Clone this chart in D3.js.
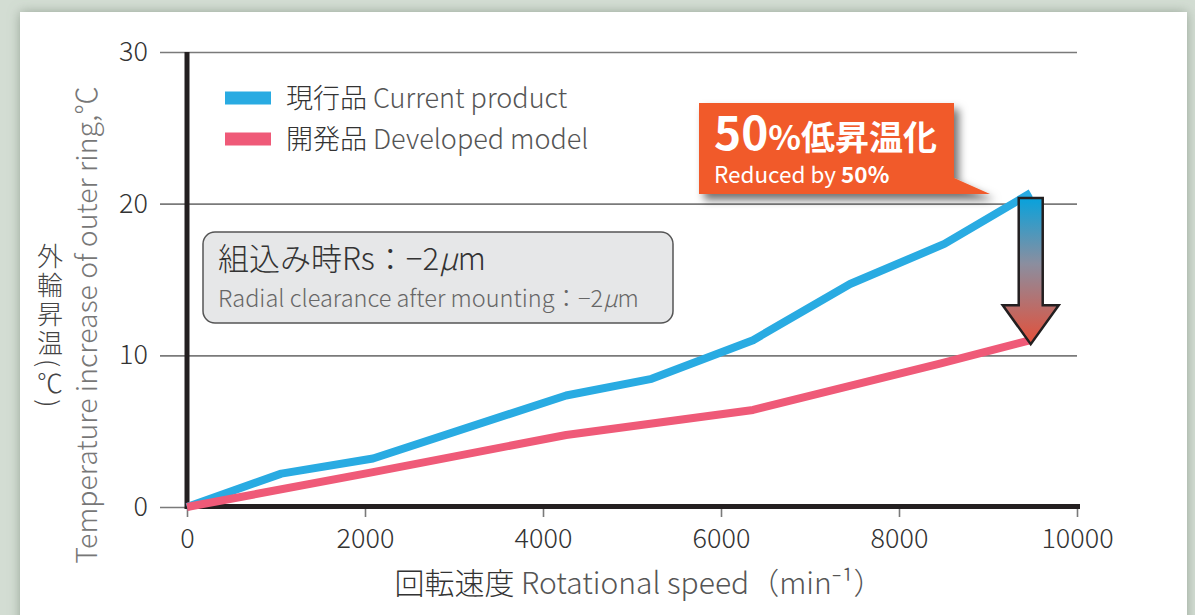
<!DOCTYPE html>
<html>
<head>
<meta charset="utf-8">
<script src="https://cdn.jsdelivr.net/npm/d3@7"></script>
<style>
  body { margin: 0; background: #d3ddd3; }
  svg { display: block; font-family: "Noto Sans CJK JP", "Noto Sans", sans-serif; font-weight: 300; }
</style>
</head>
<body>
<svg id="chart" width="1195" height="615"></svg>
<script>
// data
let speedCurrent = [0, 1060, 2090, 4260, 5220, 6360, 7450, 8510, 9480];
let tempCurrent = [0, 2.2, 3.2, 7.35, 8.45, 11.0, 14.7, 17.35, 20.7];
let speedDeveloped = [0, 2090, 4260, 6360, 8460, 9480];
let tempDeveloped = [0, 2.3, 4.75, 6.4, 9.45, 11.0];
let xTicks = [0, 2000, 4000, 6000, 8000, 10000];
let yTicks = [0, 10, 20, 30];
let legendLabels = [["現行品", " Current product"], ["開発品", " Developed model"]];
let colors = ["#29abe2", "#ef5a78"];

let svg = d3.select("#chart");
let defs = svg.append("defs");

let panelShadow = defs.append("filter").attr("id", "panelShadow")
  .attr("x", "-5%").attr("y", "-5%").attr("width", "110%").attr("height", "110%");
panelShadow.append("feDropShadow").attr("dx", 0).attr("dy", 0)
  .attr("stdDeviation", 6).attr("flood-color", "#7d8c7d").attr("flood-opacity", 0.7);

let boxShadow = defs.append("filter").attr("id", "boxShadow")
  .attr("x", "-20%").attr("y", "-30%").attr("width", "140%").attr("height", "170%");
boxShadow.append("feDropShadow").attr("dx", 5).attr("dy", 6)
  .attr("stdDeviation", 4).attr("flood-color", "#000").attr("flood-opacity", 0.55);

let grad = defs.append("linearGradient").attr("id", "arrowGrad")
  .attr("x1", 0).attr("y1", 0).attr("x2", 0).attr("y2", 1);
grad.append("stop").attr("offset", "0%").attr("stop-color", "#08a2dc");
grad.append("stop").attr("offset", "45%").attr("stop-color", "#8b8e9f");
grad.append("stop").attr("offset", "100%").attr("stop-color", "#e4503a");

// white panel
svg.append("rect")
  .attr("x", 20).attr("y", 12).attr("width", 1167).attr("height", 640)
  .attr("fill", "#fff").attr("filter", "url(#panelShadow)");

let x = d3.scaleLinear().domain([0, 10000]).range([187, 1077]);
let y = d3.scaleLinear().domain([0, 30]).range([507, 52]);

// y grid + labels
let yAxis = svg.append("g")
  .attr("transform", "translate(160,0)")
  .call(d3.axisLeft(y).tickValues(yTicks).tickSize(-(1077 - 160)).tickPadding(12));
yAxis.select(".domain").remove();
yAxis.selectAll("line").attr("stroke", "#7a7a7a").attr("stroke-width", 1.6);
yAxis.selectAll("text").attr("font-size", 27).attr("fill", "#333")
  .attr("font-family", "'Noto Sans CJK JP', sans-serif");

// x ticks + labels
let xAxis = svg.append("g")
  .attr("transform", "translate(0,507)")
  .call(d3.axisBottom(x).tickValues(xTicks).tickFormat(d3.format("d")).tickSize(10).tickPadding(12));
xAxis.select(".domain").remove();
xAxis.selectAll("line").attr("stroke", "#7a7a7a").attr("stroke-width", 1.6);
xAxis.selectAll("text").attr("font-size", 27).attr("fill", "#333")
  .attr("font-family", "'Noto Sans CJK JP', sans-serif");

// black axis lines
svg.append("line").attr("x1", 187).attr("x2", 187).attr("y1", y(30)).attr("y2", 509)
  .attr("stroke", "#231f20").attr("stroke-width", 5);
svg.append("line").attr("x1", 185).attr("x2", 1080).attr("y1", 506.5).attr("y2", 506.5)
  .attr("stroke", "#231f20").attr("stroke-width", 5);

// series
let line = d3.line().x(d => x(d[0])).y(d => y(d[1]));
let series = [
  d3.zip(speedCurrent, tempCurrent),
  d3.zip(speedDeveloped, tempDeveloped)
];
series.forEach((s, i) => {
  svg.append("path")
    .datum(s)
    .attr("d", line)
    .attr("fill", "none")
    .attr("stroke", colors[i])
    .attr("stroke-width", 8)
    .attr("stroke-linejoin", "round");
});

// legend
let legend = svg.append("g").attr("transform", "translate(225,98)");
legendLabels.forEach((lab, i) => {
  let g = legend.append("g").attr("transform", "translate(0," + i * 41 + ")");
  g.append("rect").attr("x", 0).attr("y", -6.5).attr("width", 46).attr("height", 13)
    .attr("fill", colors[i]);
  let t = g.append("text").attr("x", 61).attr("y", 10).attr("font-size", 27);
  t.append("tspan").attr("fill", "#333").text(lab[0]);
  t.append("tspan").attr("fill", "#555").text(lab[1]);
});

// condition box
svg.append("rect")
  .attr("x", 203).attr("y", 232).attr("width", 470).attr("height", 91).attr("rx", 12)
  .attr("fill", "#e6e7e8").attr("stroke", "#555").attr("stroke-width", 1.5);
let b1 = svg.append("text").attr("x", 218).attr("y", 270).attr("font-size", 31).attr("fill", "#333");
b1.append("tspan").text("組込み時Rs：−2");
b1.append("tspan").attr("font-style", "italic").text("μ");
b1.append("tspan").text("m");
let b2 = svg.append("text").attr("x", 218).attr("y", 307).attr("font-size", 23.5).attr("fill", "#666");
b2.append("tspan").text("Radial clearance after mounting：−2");
b2.append("tspan").attr("font-style", "italic").text("μ");
b2.append("tspan").text("m");

// arrow between the ends
let xe = x(9480);
let aTop = y(20.7) + 5, aNeck = y(13.3), aTip = y(11.0) + 4;
svg.append("path")
  .attr("d", d3.line()([
    [xe - 12, aTop], [xe + 12, aTop], [xe + 12, aNeck], [xe + 28, aNeck],
    [xe, aTip], [xe - 28, aNeck], [xe - 12, aNeck]
  ]) + "Z")
  .attr("fill", "url(#arrowGrad)").attr("stroke", "#231f20").attr("stroke-width", 2.5)
  .attr("stroke-linejoin", "miter");

// callout
let callout = svg.append("g").attr("filter", "url(#boxShadow)");
callout.append("path")
  .attr("d", d3.line()([[699, 103], [954, 103], [954, 178], [990, 194], [699, 194]]) + "Z")
  .attr("fill", "#f15a29");
let c1 = svg.append("text").attr("x", 714).attr("y", 150).attr("fill", "#fff").attr("font-weight", "bold");
c1.append("tspan").attr("font-size", 46).text("50");
c1.append("tspan").attr("font-size", 34).text("%低昇温化");
let c2 = svg.append("text").attr("x", 714).attr("y", 183).attr("fill", "#fff").attr("font-size", 22.5)
  .attr("font-weight", 400);
c2.append("tspan").text("Reduced by ");
c2.append("tspan").attr("font-weight", "bold").text("50%");

// x title
let xt = svg.append("text").attr("x", 639).attr("y", 594).attr("text-anchor", "middle").attr("font-size", 30);
xt.append("tspan").attr("fill", "#333").text("回転速度");
xt.append("tspan").attr("fill", "#555").text(" Rotational speed（min⁻¹）");

// y title, vertical japanese
svg.append("text")
  .attr("x", 50).attr("y", 243)
  .style("writing-mode", "vertical-rl")
  .style("text-orientation", "mixed")
  .attr("letter-spacing", 3)
  .attr("font-size", 26).attr("fill", "#444")
  .text("外輪昇温(℃)");
svg.append("text")
  .attr("transform", "translate(97,325) rotate(-90)")
  .attr("text-anchor", "middle").attr("font-size", 28.5).attr("fill", "#777")
  .text("Temperature increase of outer ring,℃");
</script>
</body>
</html>
